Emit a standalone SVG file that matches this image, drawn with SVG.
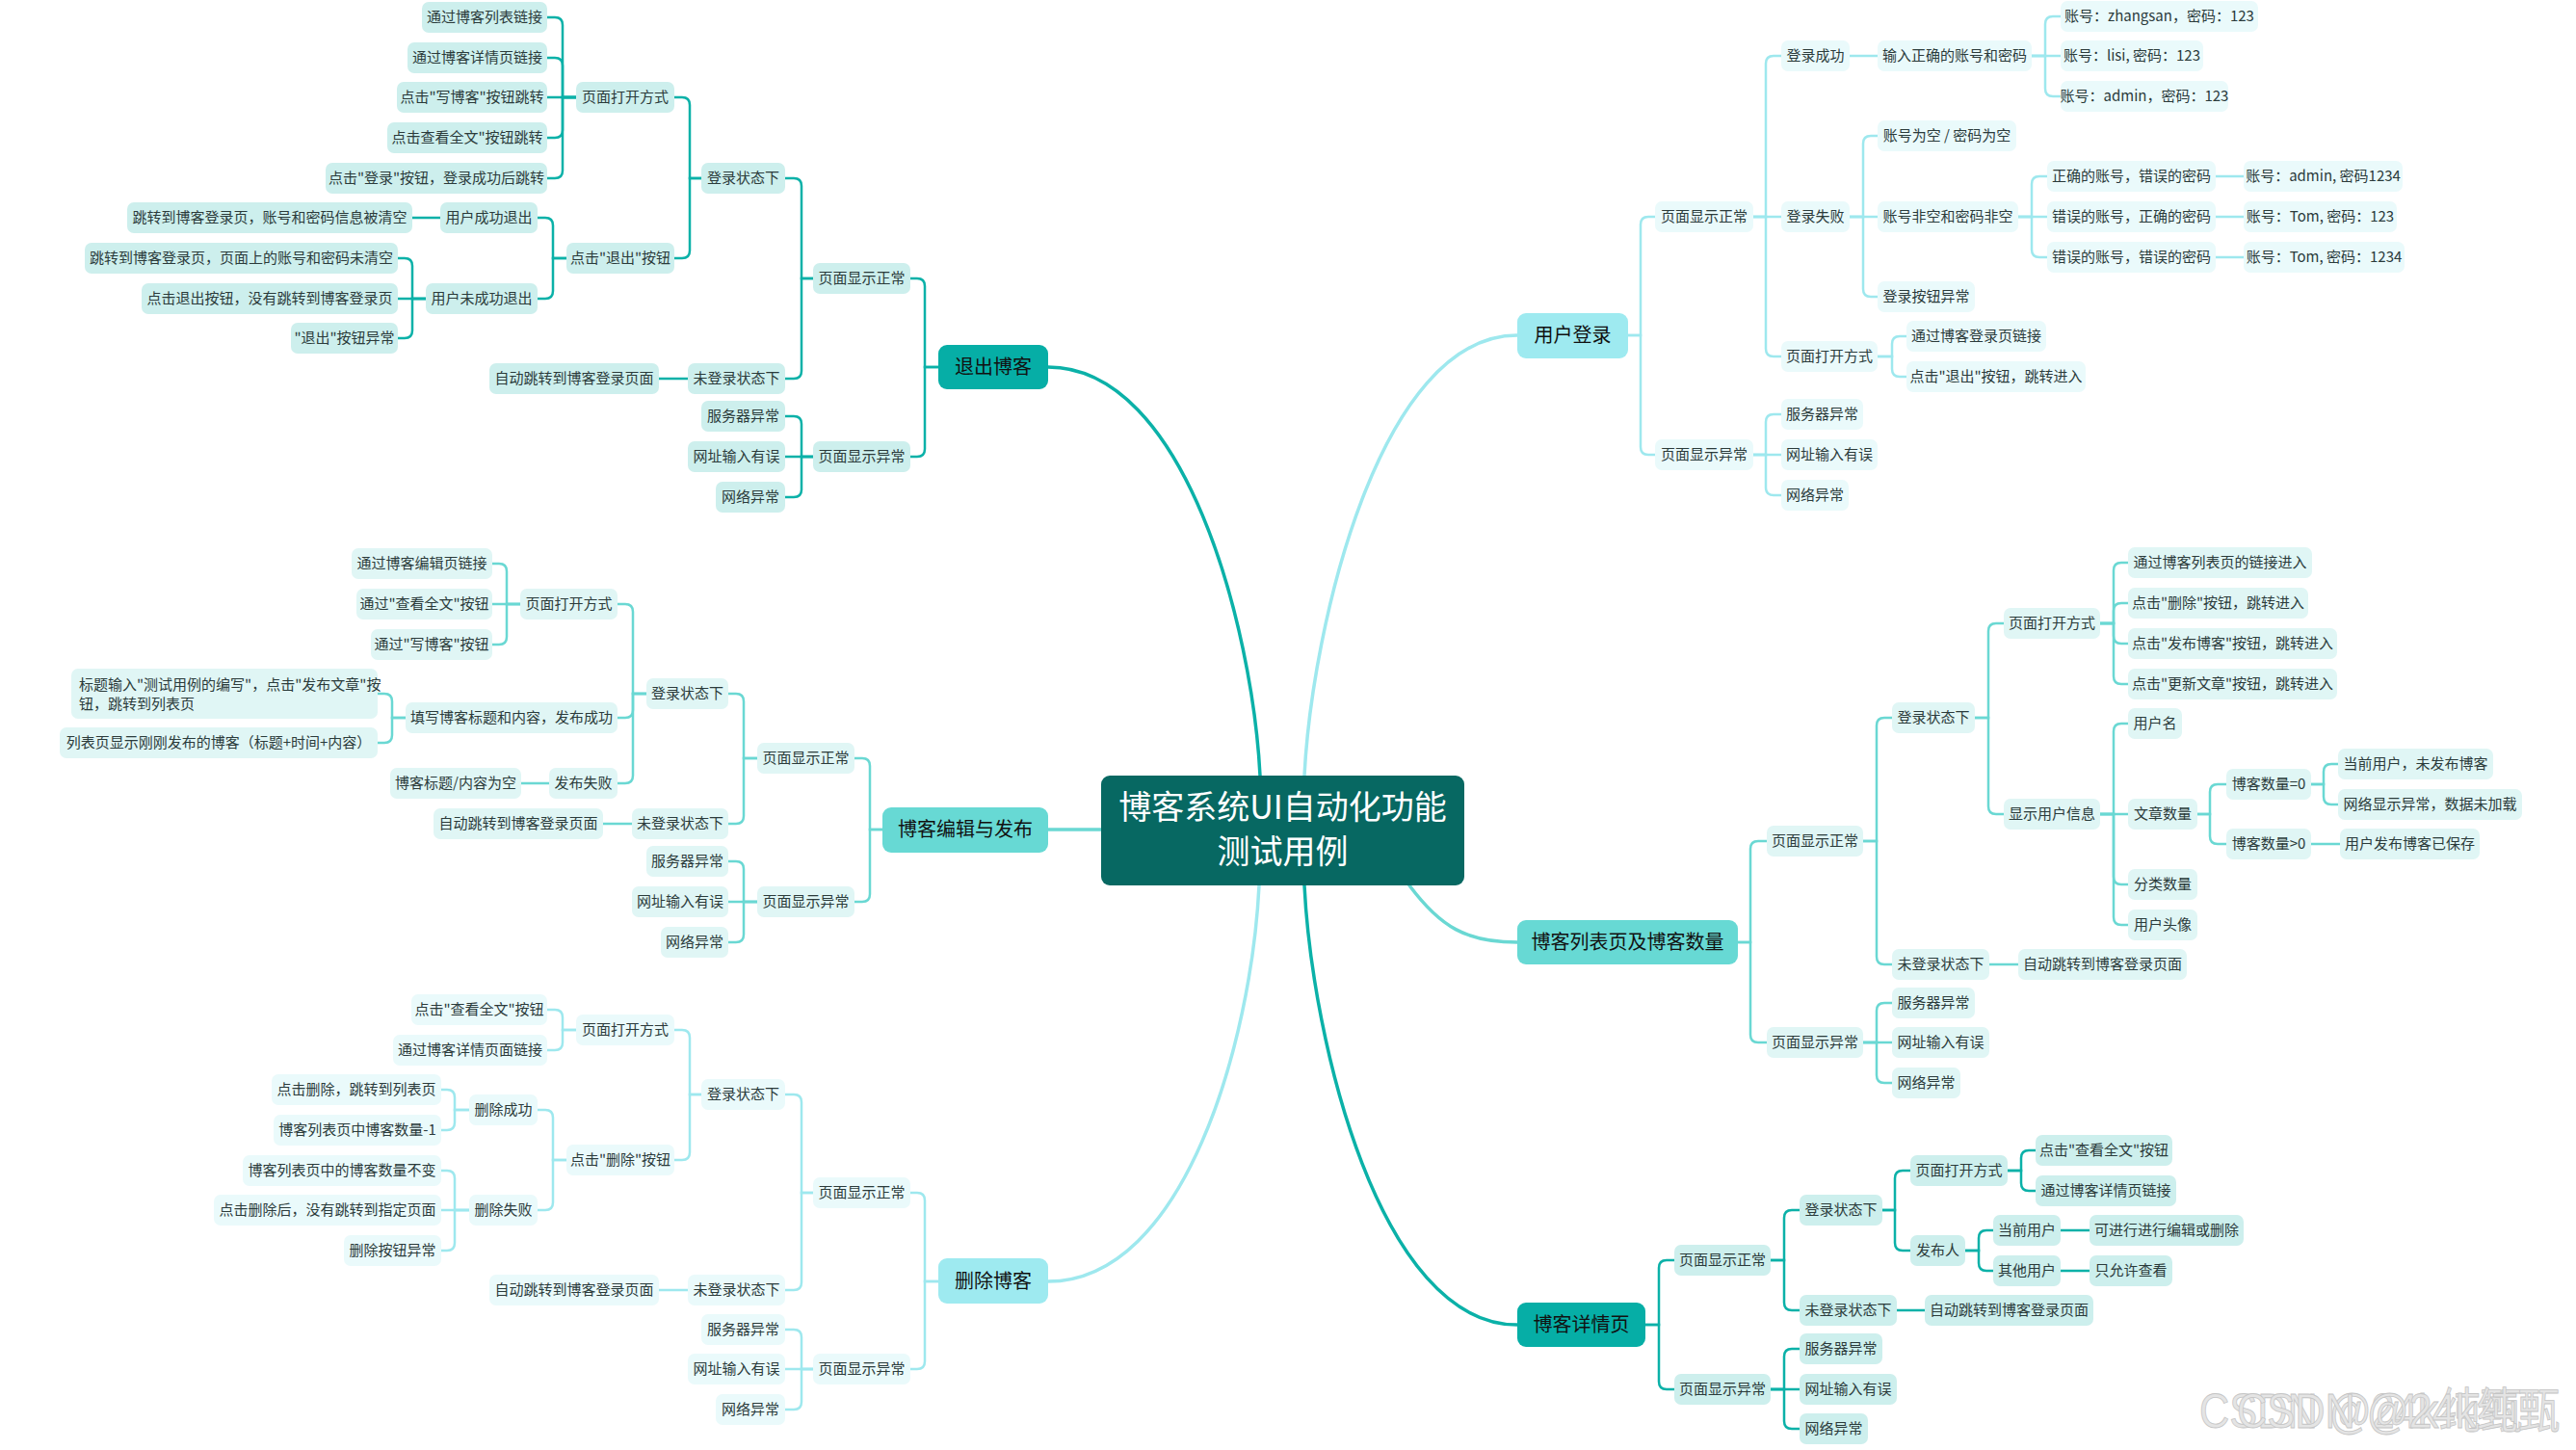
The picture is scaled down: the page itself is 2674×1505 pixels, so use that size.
<svg xmlns="http://www.w3.org/2000/svg" width="2674" height="1505" viewBox="0 0 2674 1505">
<style>
text{font-family:"Noto Sans CJK SC","Noto Sans",sans-serif;font-size:15px;fill:#2b3b3b;text-anchor:middle}
.na rect{fill:#CDEFED}
.nb rect{fill:#E0F6F5}
.nc rect{fill:#EAFAFB}
.n rect{rx:7;ry:7}
.m rect{rx:9;ry:9}
.m text{font-size:20px;fill:#111}
.ma rect{fill:#06AEA6}
.mb rect{fill:#67D9D4}
.mc rect{fill:#9EEAF0}
.ca path{stroke:#0BB1A8}
.cb path{stroke:#6AD8D3}
.cc path{stroke:#9EE8EE}
#connectors path{fill:none;stroke-width:2.5;stroke-linecap:round}
#connectors .main path{stroke-width:3.5}
.wm{font-family:"Liberation Sans","Noto Sans CJK SC",sans-serif;font-size:50px;fill:#e4e4e4;stroke:#c4c4c4;stroke-width:0.8;text-anchor:start}
</style>
<rect width="2674" height="1505" fill="#ffffff"/>
<g id="connectors">
<g class="main">
<path d="M1308,805 C1300,650 1230,381 1088,381" stroke="#0BB1A8"/>
<path d="M1354,805 C1362,650 1432,348 1575,348" stroke="#9EE8EE"/>
<path d="M1143,861 H1088" stroke="#6AD8D3"/>
<path d="M1307,919 C1299,1080 1230,1330 1088,1330" stroke="#9EE8EE"/>
<path d="M1354,919 C1362,1080 1432,1375 1575,1375" stroke="#0BB1A8"/>
<path d="M1463,919 C1495,962 1522,978 1575,978" stroke="#6AD8D3"/>
</g>
<g class="ca">
<path d="M598,101H584V26Q584,18 576,18H568"/>
<path d="M598,101H584V68Q584,60 576,60H568"/>
<path d="M598,101H568"/>
<path d="M598,101H584V135Q584,143 576,143H568"/>
<path d="M598,101H584V177Q584,185 576,185H568"/>
<path d="M728,185H716V109Q716,101 708,101H700"/>
<path d="M728,185H716V260Q716,268 708,268H700"/>
<path d="M588,268H574V234Q574,226 566,226H558"/>
<path d="M588,268H574V302Q574,310 566,310H558"/>
<path d="M457,226H428"/>
<path d="M442,310H428V276Q428,268 420,268H413"/>
<path d="M442,310H413"/>
<path d="M442,310H428V343Q428,351 420,351H413"/>
<path d="M844,289H832V193Q832,185 824,185H815"/>
<path d="M844,289H832V385Q832,393 824,393H815"/>
<path d="M714,393H684"/>
<path d="M844,474H832V440Q832,432 824,432H815"/>
<path d="M844,474H815"/>
<path d="M844,474H832V508Q832,516 824,516H815"/>
<path d="M974,381H960V297Q960,289 952,289H945"/>
<path d="M974,381H960V466Q960,474 952,474H945"/>
</g>
<g class="cb">
<path d="M540,627H526V593Q526,585 518,585H511"/>
<path d="M540,627H511"/>
<path d="M540,627H526V661Q526,669 518,669H511"/>
<path d="M671,720H657V635Q657,627 649,627H641"/>
<path d="M671,720H657V737Q657,745 649,745H641"/>
<path d="M671,720H657V805Q657,813 649,813H641"/>
<path d="M421,745H407V728Q407,720 399,720H392"/>
<path d="M421,745H407V763Q407,771 399,771H392"/>
<path d="M570,813H541"/>
<path d="M786,787H772V728Q772,720 764,720H756"/>
<path d="M786,787H772V847Q772,855 764,855H756"/>
<path d="M656,855H626"/>
<path d="M786,936H772V902Q772,894 764,894H756"/>
<path d="M786,936H756"/>
<path d="M786,936H772V970Q772,978 764,978H756"/>
<path d="M916,861H903V795Q903,787 895,787H887"/>
<path d="M916,861H903V928Q903,936 895,936H887"/>
<path d="M1804,978H1817V881Q1817,873 1825,873H1834"/>
<path d="M1804,978H1817V1074Q1817,1082 1825,1082H1834"/>
<path d="M1934,873H1948V753Q1948,745 1956,745H1964"/>
<path d="M1934,873H1948V993Q1948,1001 1956,1001H1964"/>
<path d="M2050,745H2064V655Q2064,647 2072,647H2080"/>
<path d="M2050,745H2064V837Q2064,845 2072,845H2080"/>
<path d="M2180,647H2194V592Q2194,584 2202,584H2209"/>
<path d="M2180,647H2194V634Q2194,626 2202,626H2209"/>
<path d="M2180,647H2194V660Q2194,668 2202,668H2209"/>
<path d="M2180,647H2194V702Q2194,710 2202,710H2209"/>
<path d="M2180,845H2194V759Q2194,751 2202,751H2209"/>
<path d="M2180,845H2209"/>
<path d="M2180,845H2194V910Q2194,918 2202,918H2209"/>
<path d="M2180,845H2194V952Q2194,960 2202,960H2209"/>
<path d="M2281,845H2294V822Q2294,814 2302,814H2311"/>
<path d="M2281,845H2294V868Q2294,876 2302,876H2311"/>
<path d="M2399,814H2412V801Q2412,793 2420,793H2427"/>
<path d="M2399,814H2412V827Q2412,835 2420,835H2427"/>
<path d="M2399,876H2429"/>
<path d="M2065,1001H2095"/>
<path d="M1934,1082H1948V1049Q1948,1041 1956,1041H1964"/>
<path d="M1934,1082H1964"/>
<path d="M1934,1082H1948V1116Q1948,1124 1956,1124H1964"/>
</g>
<g class="cc">
<path d="M598,1069H584V1056Q584,1048 576,1048H568"/>
<path d="M598,1069H584V1082Q584,1090 576,1090H568"/>
<path d="M728,1136H716V1077Q716,1069 708,1069H700"/>
<path d="M728,1136H716V1196Q716,1204 708,1204H700"/>
<path d="M588,1204H574V1160Q574,1152 566,1152H558"/>
<path d="M588,1204H574V1248Q574,1256 566,1256H558"/>
<path d="M487,1152H472V1139Q472,1131 464,1131H458"/>
<path d="M487,1152H472V1165Q472,1173 464,1173H458"/>
<path d="M487,1256H472V1223Q472,1215 464,1215H458"/>
<path d="M487,1256H458"/>
<path d="M487,1256H472V1290Q472,1298 464,1298H458"/>
<path d="M844,1238H832V1144Q832,1136 824,1136H815"/>
<path d="M844,1238H832V1331Q832,1339 824,1339H815"/>
<path d="M714,1339H684"/>
<path d="M844,1421H832V1388Q832,1380 824,1380H815"/>
<path d="M844,1421H815"/>
<path d="M844,1421H832V1455Q832,1463 824,1463H815"/>
<path d="M974,1330H960V1246Q960,1238 952,1238H945"/>
<path d="M974,1330H960V1413Q960,1421 952,1421H945"/>
<path d="M1690,348H1703V233Q1703,225 1711,225H1718"/>
<path d="M1690,348H1703V464Q1703,472 1711,472H1718"/>
<path d="M1820,225H1833V66Q1833,58 1841,58H1849"/>
<path d="M1820,225H1849"/>
<path d="M1820,225H1833V362Q1833,370 1841,370H1849"/>
<path d="M1920,58H1949"/>
<path d="M2109,58H2123V25Q2123,17 2131,17H2139"/>
<path d="M2109,58H2139"/>
<path d="M2109,58H2123V92Q2123,100 2131,100H2139"/>
<path d="M1920,225H1934V149Q1934,141 1942,141H1949"/>
<path d="M1920,225H1949"/>
<path d="M1920,225H1934V300Q1934,308 1942,308H1949"/>
<path d="M2095,225H2109V191Q2109,183 2117,183H2125"/>
<path d="M2095,225H2125"/>
<path d="M2095,225H2109V259Q2109,267 2117,267H2125"/>
<path d="M2300,183H2329"/>
<path d="M2300,225H2329"/>
<path d="M2300,267H2329"/>
<path d="M1949,370H1964V357Q1964,349 1972,349H1979"/>
<path d="M1949,370H1964V383Q1964,391 1972,391H1979"/>
<path d="M1820,472H1833V438Q1833,430 1841,430H1849"/>
<path d="M1820,472H1849"/>
<path d="M1820,472H1833V506Q1833,514 1841,514H1849"/>
</g>
<g class="ca">
<path d="M1708,1375H1722V1316Q1722,1308 1730,1308H1738"/>
<path d="M1708,1375H1722V1434Q1722,1442 1730,1442H1738"/>
<path d="M1838,1308H1852V1264Q1852,1256 1860,1256H1868"/>
<path d="M1838,1308H1852V1352Q1852,1360 1860,1360H1868"/>
<path d="M1954,1256H1967V1223Q1967,1215 1975,1215H1983"/>
<path d="M1954,1256H1967V1290Q1967,1298 1975,1298H1983"/>
<path d="M2084,1215H2098V1202Q2098,1194 2106,1194H2113"/>
<path d="M2084,1215H2098V1228Q2098,1236 2106,1236H2113"/>
<path d="M2040,1298H2054V1285Q2054,1277 2062,1277H2069"/>
<path d="M2040,1298H2054V1311Q2054,1319 2062,1319H2069"/>
<path d="M2139,1277H2169"/>
<path d="M2139,1319H2169"/>
<path d="M1969,1360H1998"/>
<path d="M1838,1442H1852V1408Q1852,1400 1860,1400H1868"/>
<path d="M1838,1442H1868"/>
<path d="M1838,1442H1852V1475Q1852,1483 1860,1483H1868"/>
</g>
</g>

<g id="root"><rect x="1143" y="805" width="377" height="114" rx="9" fill="#076862"/><text x="1331.5" y="850" style="font-size:34px;fill:#ffffff">博客系统UI自动化功能</text><text x="1331.5" y="896" style="font-size:34px;fill:#ffffff">测试用例</text></g>

<g id="main-a" class="m ma"><rect x="974" y="358" width="114" height="46"/><text x="1031" y="388">退出博客</text></g>
<g id="main-b" class="m mb"><rect x="916" y="838" width="172" height="47"/><text x="1002" y="868">博客编辑与发布</text></g>
<g id="main-c" class="m mc"><rect x="974" y="1306" width="114" height="47"/><text x="1031" y="1337">删除博客</text></g>
<g id="main-d" class="m mc"><rect x="1575" y="325" width="115" height="47"/><text x="1632.5" y="355">用户登录</text></g>
<g id="main-e" class="m mb"><rect x="1575" y="955" width="229" height="46"/><text x="1689.5" y="985">博客列表页及博客数量</text></g>
<g id="main-f" class="m ma"><rect x="1575" y="1352" width="133" height="46"/><text x="1641.5" y="1382">博客详情页</text></g>

<g id="a1" class="n na"><rect x="438" y="2" width="130" height="32"/><text x="503" y="23">通过博客列表链接</text></g>
<g id="a2" class="n na"><rect x="423" y="44" width="145" height="32"/><text x="495.5" y="65">通过博客详情页链接</text></g>
<g id="a3" class="n na"><rect x="412" y="85" width="156" height="32"/><text x="490" y="106">点击"写博客"按钮跳转</text></g>
<g id="a4" class="n na"><rect x="402" y="127" width="166" height="32"/><text x="485" y="148">点击查看全文"按钮跳转</text></g>
<g id="a5" class="n na"><rect x="338" y="169" width="230" height="32"/><text x="453" y="190">点击"登录"按钮，登录成功后跳转</text></g>
<g id="a6" class="n na"><rect x="598" y="85" width="102" height="32"/><text x="649" y="106">页面打开方式</text></g>
<g id="a7" class="n na"><rect x="728" y="169" width="87" height="32"/><text x="771.5" y="190">登录状态下</text></g>
<g id="a8" class="n na"><rect x="132" y="210" width="296" height="32"/><text x="280" y="231">跳转到博客登录页，账号和密码信息被清空</text></g>
<g id="a9" class="n na"><rect x="457" y="210" width="101" height="32"/><text x="507.5" y="231">用户成功退出</text></g>
<g id="a10" class="n na"><rect x="88" y="252" width="325" height="32"/><text x="250.5" y="273">跳转到博客登录页，页面上的账号和密码未清空</text></g>
<g id="a11" class="n na"><rect x="588" y="252" width="112" height="32"/><text x="644" y="273">点击"退出"按钮</text></g>
<g id="a12" class="n na"><rect x="147" y="294" width="266" height="32"/><text x="280" y="315">点击退出按钮，没有跳转到博客登录页</text></g>
<g id="a13" class="n na"><rect x="442" y="294" width="116" height="32"/><text x="500" y="315">用户未成功退出</text></g>
<g id="a14" class="n na"><rect x="302" y="335" width="111" height="32"/><text x="357.5" y="356">"退出"按钮异常</text></g>
<g id="a15" class="n na"><rect x="844" y="273" width="101" height="32"/><text x="894.5" y="294">页面显示正常</text></g>
<g id="a16" class="n na"><rect x="508" y="377" width="176" height="32"/><text x="596" y="398">自动跳转到博客登录页面</text></g>
<g id="a17" class="n na"><rect x="714" y="377" width="101" height="32"/><text x="764.5" y="398">未登录状态下</text></g>
<g id="a18" class="n na"><rect x="728" y="416" width="87" height="32"/><text x="771.5" y="437">服务器异常</text></g>
<g id="a19" class="n na"><rect x="714" y="458" width="101" height="32"/><text x="764.5" y="479">网址输入有误</text></g>
<g id="a20" class="n na"><rect x="844" y="458" width="101" height="32"/><text x="894.5" y="479">页面显示异常</text></g>
<g id="a21" class="n na"><rect x="743" y="500" width="72" height="32"/><text x="779" y="521">网络异常</text></g>

<g id="b1" class="n nb"><rect x="365" y="569" width="146" height="32"/><text x="438" y="590">通过博客编辑页链接</text></g>
<g id="b2" class="n nb"><rect x="370" y="611" width="141" height="32"/><text x="440.5" y="632">通过"查看全文"按钮</text></g>
<g id="b3" class="n nb"><rect x="540" y="611" width="101" height="32"/><text x="590.5" y="632">页面打开方式</text></g>
<g id="b4" class="n nb"><rect x="385" y="653" width="126" height="32"/><text x="448" y="674">通过"写博客"按钮</text></g>
<g id="b5" class="n nb"><rect x="74" y="694" width="318" height="52"/><text x="82" y="716" style="text-anchor:start">标题输入"测试用例的编写"，点击"发布文章"按</text><text x="82" y="736" style="text-anchor:start">钮，跳转到列表页</text></g>
<g id="b6" class="n nb"><rect x="62" y="755" width="330" height="32"/><text x="227" y="776">列表页显示刚刚发布的博客（标题+时间+内容）</text></g>
<g id="b7" class="n nb"><rect x="421" y="729" width="220" height="32"/><text x="531" y="750">填写博客标题和内容，发布成功</text></g>
<g id="b8" class="n nb"><rect x="671" y="704" width="85" height="32"/><text x="713.5" y="725">登录状态下</text></g>
<g id="b9" class="n nb"><rect x="405" y="797" width="136" height="32"/><text x="473" y="818">博客标题/内容为空</text></g>
<g id="b10" class="n nb"><rect x="570" y="797" width="71" height="32"/><text x="605.5" y="818">发布失败</text></g>
<g id="b11" class="n nb"><rect x="786" y="771" width="101" height="32"/><text x="836.5" y="792">页面显示正常</text></g>
<g id="b12" class="n nb"><rect x="450" y="839" width="176" height="32"/><text x="538" y="860">自动跳转到博客登录页面</text></g>
<g id="b13" class="n nb"><rect x="656" y="839" width="100" height="32"/><text x="706" y="860">未登录状态下</text></g>
<g id="b14" class="n nb"><rect x="671" y="878" width="85" height="32"/><text x="713.5" y="899">服务器异常</text></g>
<g id="b15" class="n nb"><rect x="656" y="920" width="100" height="32"/><text x="706" y="941">网址输入有误</text></g>
<g id="b16" class="n nb"><rect x="786" y="920" width="101" height="32"/><text x="836.5" y="941">页面显示异常</text></g>
<g id="b17" class="n nb"><rect x="686" y="962" width="70" height="32"/><text x="721" y="983">网络异常</text></g>

<g id="c1" class="n nc"><rect x="427" y="1032" width="141" height="32"/><text x="497.5" y="1053">点击"查看全文"按钮</text></g>
<g id="c2" class="n nc"><rect x="408" y="1074" width="160" height="32"/><text x="488" y="1095">通过博客详情页面链接</text></g>
<g id="c3" class="n nc"><rect x="598" y="1053" width="102" height="32"/><text x="649" y="1074">页面打开方式</text></g>
<g id="c4" class="n nc"><rect x="728" y="1120" width="87" height="32"/><text x="771.5" y="1141">登录状态下</text></g>
<g id="c5" class="n nc"><rect x="282" y="1115" width="176" height="32"/><text x="370" y="1136">点击删除，跳转到列表页</text></g>
<g id="c6" class="n nc"><rect x="284" y="1157" width="174" height="32"/><text x="371" y="1178">博客列表页中博客数量-1</text></g>
<g id="c7" class="n nc"><rect x="487" y="1136" width="71" height="32"/><text x="522.5" y="1157">删除成功</text></g>
<g id="c8" class="n nc"><rect x="588" y="1188" width="112" height="32"/><text x="644" y="1209">点击"删除"按钮</text></g>
<g id="c9" class="n nc"><rect x="252" y="1199" width="206" height="32"/><text x="355" y="1220">博客列表页中的博客数量不变</text></g>
<g id="c10" class="n nc"><rect x="222" y="1240" width="236" height="32"/><text x="340" y="1261">点击删除后，没有跳转到指定页面</text></g>
<g id="c11" class="n nc"><rect x="487" y="1240" width="71" height="32"/><text x="522.5" y="1261">删除失败</text></g>
<g id="c12" class="n nc"><rect x="357" y="1282" width="101" height="32"/><text x="407.5" y="1303">删除按钮异常</text></g>
<g id="c13" class="n nc"><rect x="844" y="1222" width="101" height="32"/><text x="894.5" y="1243">页面显示正常</text></g>
<g id="c14" class="n nc"><rect x="508" y="1323" width="176" height="32"/><text x="596" y="1344">自动跳转到博客登录页面</text></g>
<g id="c15" class="n nc"><rect x="714" y="1323" width="101" height="32"/><text x="764.5" y="1344">未登录状态下</text></g>
<g id="c16" class="n nc"><rect x="728" y="1364" width="87" height="32"/><text x="771.5" y="1385">服务器异常</text></g>
<g id="c17" class="n nc"><rect x="714" y="1405" width="101" height="32"/><text x="764.5" y="1426">网址输入有误</text></g>
<g id="c18" class="n nc"><rect x="844" y="1405" width="101" height="32"/><text x="894.5" y="1426">页面显示异常</text></g>
<g id="c19" class="n nc"><rect x="743" y="1447" width="72" height="32"/><text x="779" y="1468">网络异常</text></g>

<g id="d1" class="n nc"><rect x="2139" y="1" width="205" height="32"/><text x="2241.5" y="22">账号：zhangsan，密码：123</text></g>
<g id="d2" class="n nc"><rect x="1849" y="42" width="71" height="32"/><text x="1884.5" y="63">登录成功</text></g>
<g id="d3" class="n nc"><rect x="1949" y="42" width="160" height="32"/><text x="2029" y="63">输入正确的账号和密码</text></g>
<g id="d4" class="n nc"><rect x="2139" y="42" width="148" height="32"/><text x="2213" y="63">账号：lisi, 密码：123</text></g>
<g id="d5" class="n nc"><rect x="2139" y="84" width="174" height="32"/><text x="2226" y="105">账号：admin，密码：123</text></g>
<g id="d6" class="n nc"><rect x="1949" y="125" width="144" height="32"/><text x="2021" y="146">账号为空 / 密码为空</text></g>
<g id="d7" class="n nc"><rect x="2125" y="167" width="175" height="32"/><text x="2212.5" y="188">正确的账号，错误的密码</text></g>
<g id="d8" class="n nc"><rect x="2329" y="167" width="165" height="32"/><text x="2411.5" y="188">账号：admin, 密码1234</text></g>
<g id="d9" class="n nc"><rect x="1718" y="209" width="102" height="32"/><text x="1769" y="230">页面显示正常</text></g>
<g id="d10" class="n nc"><rect x="1849" y="209" width="71" height="32"/><text x="1884.5" y="230">登录失败</text></g>
<g id="d11" class="n nc"><rect x="1949" y="209" width="146" height="32"/><text x="2022" y="230">账号非空和密码非空</text></g>
<g id="d12" class="n nc"><rect x="2125" y="209" width="175" height="32"/><text x="2212.5" y="230">错误的账号，正确的密码</text></g>
<g id="d13" class="n nc"><rect x="2329" y="209" width="159" height="32"/><text x="2408.5" y="230">账号：Tom, 密码：123</text></g>
<g id="d14" class="n nc"><rect x="2125" y="251" width="175" height="32"/><text x="2212.5" y="272">错误的账号，错误的密码</text></g>
<g id="d15" class="n nc"><rect x="2329" y="251" width="167" height="32"/><text x="2412.5" y="272">账号：Tom, 密码：1234</text></g>
<g id="d16" class="n nc"><rect x="1949" y="292" width="101" height="32"/><text x="1999.5" y="313">登录按钮异常</text></g>
<g id="d17" class="n nc"><rect x="1979" y="333" width="145" height="32"/><text x="2051.5" y="354">通过博客登录页链接</text></g>
<g id="d18" class="n nc"><rect x="1849" y="354" width="100" height="32"/><text x="1899" y="375">页面打开方式</text></g>
<g id="d19" class="n nc"><rect x="1979" y="375" width="186" height="32"/><text x="2072" y="396">点击"退出"按钮，跳转进入</text></g>
<g id="d20" class="n nc"><rect x="1849" y="414" width="85" height="32"/><text x="1891.5" y="435">服务器异常</text></g>
<g id="d21" class="n nc"><rect x="1718" y="456" width="102" height="32"/><text x="1769" y="477">页面显示异常</text></g>
<g id="d22" class="n nc"><rect x="1849" y="456" width="100" height="32"/><text x="1899" y="477">网址输入有误</text></g>
<g id="d23" class="n nc"><rect x="1849" y="498" width="70" height="32"/><text x="1884" y="519">网络异常</text></g>

<g id="e1" class="n nb"><rect x="2209" y="568" width="191" height="32"/><text x="2304.5" y="589">通过博客列表页的链接进入</text></g>
<g id="e2" class="n nb"><rect x="2209" y="610" width="187" height="32"/><text x="2302.5" y="631">点击"删除"按钮，跳转进入</text></g>
<g id="e3" class="n nb"><rect x="2080" y="631" width="100" height="32"/><text x="2130" y="652">页面打开方式</text></g>
<g id="e4" class="n nb"><rect x="2209" y="652" width="217" height="32"/><text x="2317.5" y="673">点击"发布博客"按钮，跳转进入</text></g>
<g id="e5" class="n nb"><rect x="2209" y="694" width="217" height="32"/><text x="2317.5" y="715">点击"更新文章"按钮，跳转进入</text></g>
<g id="e6" class="n nb"><rect x="1964" y="729" width="86" height="32"/><text x="2007" y="750">登录状态下</text></g>
<g id="e7" class="n nb"><rect x="2209" y="735" width="56" height="32"/><text x="2237" y="756">用户名</text></g>
<g id="e8" class="n nb"><rect x="2427" y="777" width="161" height="32"/><text x="2507.5" y="798">当前用户，未发布博客</text></g>
<g id="e9" class="n nb"><rect x="2311" y="798" width="88" height="32"/><text x="2355" y="819">博客数量=0</text></g>
<g id="e10" class="n nb"><rect x="2427" y="819" width="191" height="32"/><text x="2522.5" y="840">网络显示异常，数据未加载</text></g>
<g id="e11" class="n nb"><rect x="2080" y="829" width="100" height="32"/><text x="2130" y="850">显示用户信息</text></g>
<g id="e12" class="n nb"><rect x="2209" y="829" width="72" height="32"/><text x="2245" y="850">文章数量</text></g>
<g id="e13" class="n nb"><rect x="1834" y="857" width="100" height="32"/><text x="1884" y="878">页面显示正常</text></g>
<g id="e14" class="n nb"><rect x="2311" y="860" width="88" height="32"/><text x="2355" y="881">博客数量&gt;0</text></g>
<g id="e15" class="n nb"><rect x="2429" y="860" width="145" height="32"/><text x="2501.5" y="881">用户发布博客已保存</text></g>
<g id="e16" class="n nb"><rect x="2209" y="902" width="72" height="32"/><text x="2245" y="923">分类数量</text></g>
<g id="e17" class="n nb"><rect x="2209" y="944" width="72" height="32"/><text x="2245" y="965">用户头像</text></g>
<g id="e18" class="n nb"><rect x="1964" y="985" width="101" height="32"/><text x="2014.5" y="1006">未登录状态下</text></g>
<g id="e19" class="n nb"><rect x="2095" y="985" width="175" height="32"/><text x="2182.5" y="1006">自动跳转到博客登录页面</text></g>
<g id="e20" class="n nb"><rect x="1964" y="1025" width="86" height="32"/><text x="2007" y="1046">服务器异常</text></g>
<g id="e21" class="n nb"><rect x="1834" y="1066" width="100" height="32"/><text x="1884" y="1087">页面显示异常</text></g>
<g id="e22" class="n nb"><rect x="1964" y="1066" width="101" height="32"/><text x="2014.5" y="1087">网址输入有误</text></g>
<g id="e23" class="n nb"><rect x="1964" y="1108" width="71" height="32"/><text x="1999.5" y="1129">网络异常</text></g>

<g id="f1" class="n na"><rect x="2113" y="1178" width="142" height="32"/><text x="2184" y="1199">点击"查看全文"按钮</text></g>
<g id="f2" class="n na"><rect x="1983" y="1199" width="101" height="32"/><text x="2033.5" y="1220">页面打开方式</text></g>
<g id="f3" class="n na"><rect x="2113" y="1220" width="146" height="32"/><text x="2186" y="1241">通过博客详情页链接</text></g>
<g id="f4" class="n na"><rect x="1868" y="1240" width="86" height="32"/><text x="1911" y="1261">登录状态下</text></g>
<g id="f5" class="n na"><rect x="2069" y="1261" width="70" height="32"/><text x="2104" y="1282">当前用户</text></g>
<g id="f6" class="n na"><rect x="2169" y="1261" width="160" height="32"/><text x="2249" y="1282">可进行进行编辑或删除</text></g>
<g id="f7" class="n na"><rect x="1738" y="1292" width="100" height="32"/><text x="1788" y="1313">页面显示正常</text></g>
<g id="f8" class="n na"><rect x="1983" y="1282" width="57" height="32"/><text x="2011.5" y="1303">发布人</text></g>
<g id="f9" class="n na"><rect x="2069" y="1303" width="70" height="32"/><text x="2104" y="1324">其他用户</text></g>
<g id="f10" class="n na"><rect x="2169" y="1303" width="86" height="32"/><text x="2212" y="1324">只允许查看</text></g>
<g id="f11" class="n na"><rect x="1868" y="1344" width="101" height="32"/><text x="1918.5" y="1365">未登录状态下</text></g>
<g id="f12" class="n na"><rect x="1998" y="1344" width="175" height="32"/><text x="2085.5" y="1365">自动跳转到博客登录页面</text></g>
<g id="f13" class="n na"><rect x="1868" y="1384" width="86" height="32"/><text x="1911" y="1405">服务器异常</text></g>
<g id="f14" class="n na"><rect x="1738" y="1426" width="100" height="32"/><text x="1788" y="1447">页面显示异常</text></g>
<g id="f15" class="n na"><rect x="1868" y="1426" width="101" height="32"/><text x="1918.5" y="1447">网址输入有误</text></g>
<g id="f16" class="n na"><rect x="1868" y="1467" width="71" height="32"/><text x="1903.5" y="1488">网络异常</text></g>

<g id="watermark">
<text class="wm" x="2283" y="1482" textLength="335" lengthAdjust="spacingAndGlyphs">CSDN @24k纯甄</text>
<text class="wm" x="2322" y="1482" textLength="335" lengthAdjust="spacingAndGlyphs">CSDN @24k纯甄</text>
</g>
</svg>
